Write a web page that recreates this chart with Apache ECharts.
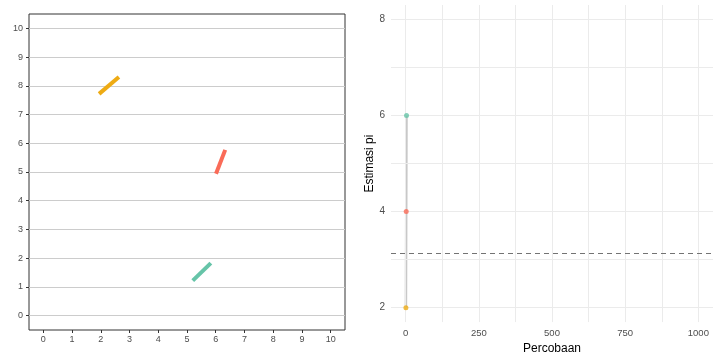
<!DOCTYPE html>
<html><head><meta charset="utf-8">
<script src="https://cdn.jsdelivr.net/npm/echarts@6/dist/echarts.min.js"></script>
<style>html,body{margin:0;padding:0;background:#fff}#c{width:720px;height:360px}</style>
</head><body><div id="c"></div>
<script>
// Left panel: needles
const leftTicks = [0,1,2,3,4,5,6,7,8,9,10];
const needleOrange = [[1.94,7.72],[2.63,8.31]];
const needleRed = [[6.01,4.94],[6.33,5.77]];
const needleTeal = [[5.20,1.22],[5.83,1.83]];
// Right panel: estimates
const trials = [1,2,3];
const estimates = [2,4,6];
const pointColors = ['#EEAB14','#FA6B58','#66C4A8'];
const rightYMajor = [2,4,6,8];
const rightYMinor = [3,5,7];
const rightXMajor = [0,250,500,750,1000];
const rightXMinor = [125,375,625,875];
const piValue = 3.14159;

const font = 'Liberation Sans, Arial, sans-serif';
const chart = echarts.init(document.getElementById('c'), null, {renderer:'canvas'});

function hLines(vals, color){
  return vals.map(v => ({yAxis:v, lineStyle:{color:color, width:1, type:'solid'}}));
}
function vLines(vals, color){
  return vals.map(v => ({xAxis:v, lineStyle:{color:color, width:1, type:'solid'}}));
}
function needle(data, color){
  return {type:'line', xAxisIndex:0, yAxisIndex:0, data:data, symbol:'none', silent:true,
    lineStyle:{color:color, width:4, cap:'butt'}, z:5, animation:false};
}

const option = {
  animation:false,
  grid:[
    {left:29, top:14, width:316, height:316, show:true, borderColor:'#333', borderWidth:1, backgroundColor:'transparent'},
    {left:391, top:5, width:322, height:320}
  ],
  xAxis:[
    {gridIndex:0, type:'value', min:-0.5, max:10.5, position:'bottom',
     axisLine:{show:false, onZero:false}, splitLine:{show:false},
     axisTick:{show:true, inside:false, customValues:leftTicks, length:3, lineStyle:{color:'#333'}},
     axisLabel:{customValues:leftTicks, color:'#4d4d4d', fontSize:9, fontFamily:font, margin:5}},
    {gridIndex:1, type:'value', min:-50, max:1050,
     axisLine:{show:false, onZero:false}, splitLine:{show:false}, axisTick:{show:false},
     axisLabel:{customValues:rightXMajor, color:'#4d4d4d', fontSize:9.5, fontFamily:font, margin:6,
       formatter:v=>String(v)},
     name:'Percobaan', nameLocation:'middle', nameGap:19,
     nameTextStyle:{color:'#000', fontSize:12, fontFamily:font}}
  ],
  yAxis:[
    {gridIndex:0, type:'value', min:-0.5, max:10.5, position:'left',
     axisLine:{show:false, onZero:false}, splitLine:{show:false},
     axisTick:{show:true, inside:false, customValues:leftTicks, length:3, lineStyle:{color:'#333'}},
     axisLabel:{customValues:leftTicks, color:'#4d4d4d', fontSize:9, fontFamily:font, margin:6}},
    {gridIndex:1, type:'value', min:1.7, max:8.3,
     axisLine:{show:false, onZero:false}, splitLine:{show:false}, axisTick:{show:false},
     axisLabel:{customValues:rightYMajor, color:'#4d4d4d', fontSize:10, fontFamily:font, margin:6},
     name:'Estimasi pi', nameLocation:'middle', nameGap:9, nameRotate:90,
     nameTextStyle:{color:'#000', fontSize:12, fontFamily:font}}
  ],
  series:[
    {type:'line', xAxisIndex:0, yAxisIndex:0, data:[], silent:true,
     markLine:{silent:true, symbol:'none', label:{show:false}, animation:false,
       data:hLines(leftTicks,'#cccccc')}},
    needle(needleOrange, pointColors[0]),
    needle(needleRed, pointColors[1]),
    needle(needleTeal, pointColors[2]),
    {type:'line', xAxisIndex:1, yAxisIndex:1, data:[], silent:true,
     markLine:{silent:true, symbol:'none', label:{show:false}, animation:false,
       data:[].concat(hLines(rightYMajor,'#ebebeb'), hLines(rightYMinor,'#ebebeb'),
                      vLines(rightXMajor,'#ebebeb'), vLines(rightXMinor,'#ebebeb'))}},
    {type:'line', xAxisIndex:1, yAxisIndex:1, data:trials.map((t,i)=>[t,estimates[i]]),
     symbol:'none', silent:true, lineStyle:{color:'#c8c8c8', width:2.5}, z:3},
    {type:'line', xAxisIndex:1, yAxisIndex:1, data:[], silent:true, z:4,
     markLine:{silent:true, symbol:'none', label:{show:false}, animation:false,
       data:[{yAxis:piValue, lineStyle:{color:'#737373', width:1, type:[5,4]}}]}},
    {type:'scatter', xAxisIndex:1, yAxisIndex:1, symbolSize:5, silent:true, z:6,
     data:trials.map((t,i)=>({value:[t,estimates[i]], itemStyle:{color:pointColors[i]}}))}
  ]
};
chart.setOption(option);
</script></body></html>
